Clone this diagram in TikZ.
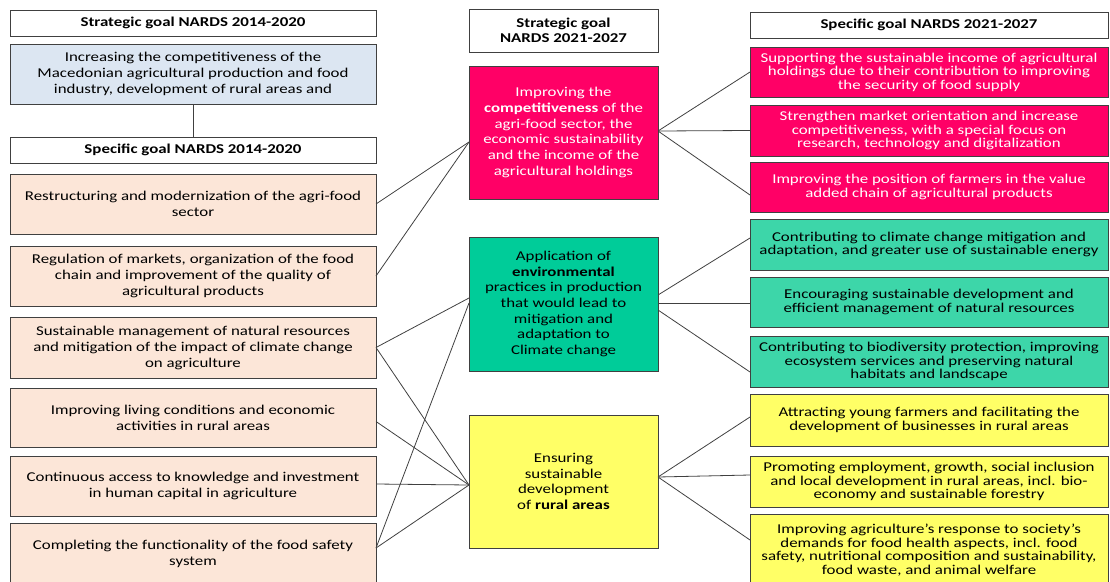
\documentclass[tikz,border=0pt]{standalone}
\usepackage{fontspec}
\setmainfont{Carlito}[FakeStretch=1.25]
\definecolor{peach}{HTML}{FCE6D8}
\definecolor{lblue}{HTML}{DCE6F2}
\definecolor{mpink}{HTML}{FF0066}
\definecolor{mgreen}{HTML}{00CC99}
\definecolor{rgreen}{HTML}{3DD6A9}
\definecolor{myellow}{HTML}{FFFF66}
\definecolor{bord}{HTML}{404040}
\tikzset{
  gbox/.style={draw=bord, line width=1pt, inner sep=0pt, outer sep=0pt, anchor=north west, align=center},
  lfont/.style={font=\fontsize{13.5}{16}\selectfont},
  mfont/.style={font=\fontsize{13.5}{15.7}\selectfont},
  rfont/.style={font=\fontsize{13.5}{13.6}\selectfont},
  hfont/.style={font=\fontsize{13.5}{15}\selectfont\bfseries},
  conn/.style={draw=bord, line width=0.8pt},
}
\newcommand{\bx}[7]{\node[gbox,#6, minimum width=#4pt, minimum height=#5pt] (#1) at (#2,#3) {#7};}
\begin{document}
\begin{tikzpicture}[x=1pt,y=-1pt]
\useasboundingbox (0,0) rectangle (1110,581);
% left column
\bx{lh1}{10}{10}{366}{26}{hfont}{Strategic goal NARDS 2014-2020}
\bx{lblue}{10}{44}{366}{60}{lfont,fill=lblue}{Increasing the competitiveness of the\\Macedonian agricultural production and food\\industry, development of rural areas and}
\bx{lh2}{10}{137}{366}{26}{hfont}{Specific goal NARDS 2014-2020}
\bx{b1}{10}{174}{366}{60}{lfont,fill=peach}{Restructuring and modernization of the agri-food\\sector}
\bx{b2}{10}{246}{366}{60}{lfont,fill=peach}{Regulation of markets, organization of the food\\chain and improvement of the quality of\\agricultural products}
\bx{b3}{10}{317}{366}{61}{lfont,fill=peach}{Sustainable management of natural resources\\and mitigation of the impact of climate change\\on agriculture}
\bx{b4}{10}{388}{366}{59}{lfont,fill=peach}{Improving living conditions and economic\\activities in rural areas}
\bx{b5}{10}{456}{366}{60}{lfont,fill=peach}{Continuous access to knowledge and investment\\in human capital in agriculture}
\bx{b6}{10}{523}{366}{62}{lfont,fill=peach}{Completing the functionality of the food safety\\system}
\draw[conn] (lblue.south) -- (lh2.north);
% middle column
\bx{mh}{469}{9}{189}{43}{hfont}{Strategic goal\\NARDS 2021-2027}
\bx{pk}{469}{66}{189}{133}{mfont,fill=mpink,text=white}{Improving the\\\textbf{competitiveness} of the\\agri-food sector, the\\economic sustainability\\and the income of the\\agricultural holdings}
\bx{gr}{469}{237}{189}{134}{mfont,fill=mgreen}{Application of\\\textbf{environmental}\\practices in production\\that would lead to\\mitigation and\\adaptation to\\Climate change}
\bx{ye}{469}{415}{189}{133}{mfont,fill=myellow}{Ensuring\\sustainable\\development\\of \textbf{rural areas}}
% right column
\bx{rh}{750}{12}{358}{26}{hfont}{Specific goal NARDS 2021-2027}
\bx{r1}{750}{47}{358}{50}{rfont,fill=mpink,text=white}{Supporting the sustainable income of agricultural\\holdings due to their contribution to improving\\the security of food supply}
\bx{r2}{750}{105}{358}{51}{rfont,fill=mpink,text=white}{Strengthen market orientation and increase\\competitiveness, with a special focus on\\research, technology and digitalization}
\bx{r3}{750}{162}{358}{50}{rfont,fill=mpink,text=white}{Improving the position of farmers in the value\\added chain of agricultural products}
\bx{g1}{750}{219}{358}{51}{rfont,fill=rgreen}{Contributing to climate  change mitigation and\\adaptation, and greater use of sustainable energy}
\bx{g2}{750}{277}{358}{50}{rfont,fill=rgreen}{Encouraging sustainable development and\\efficient management of natural resources}
\bx{g3}{750}{336}{358}{51}{rfont,fill=rgreen}{Contributing to biodiversity protection, improving\\ecosystem services and preserving natural\\habitats and landscape}
\bx{y1}{750}{394}{358}{52}{rfont,fill=myellow}{Attracting young farmers and facilitating the\\development of businesses in rural areas}
\bx{y2}{750}{456}{358}{51}{rfont,fill=myellow}{Promoting employment, growth, social inclusion\\and local development in rural areas, incl. bio-\\economy and sustainable forestry}
\bx{y3}{750}{514}{358}{72}{rfont,fill=myellow}{Improving agriculture's response to society's\\demands for food health aspects, incl.  food\\safety, nutritional composition and sustainability,\\food waste, and animal welfare}
% connectors left -> middle
\coordinate (pkL) at ([yshift=-9.5pt]pk.west);
\coordinate (grL1) at ([yshift=6pt]gr.west);
\coordinate (grL2) at ([yshift=1pt]gr.west);
\coordinate (yeL) at ([yshift=-3.5pt]ye.west);
\coordinate (b6R) at (b6.east |- 0,548);
\draw[conn] (b1.east) -- (pkL);
\draw[conn] (b2.east) -- (pkL);
\draw[conn] (b3.east) -- (grL1);
\draw[conn] (b6R) -- (grL2);
\draw[conn] (b3.east) -- (yeL);
\draw[conn] ([yshift=-4pt]b4.east) -- (yeL);
\draw[conn] ([yshift=2pt]b5.east) -- (yeL);
\draw[conn] (b6R) -- (yeL);
% connectors middle -> right
\coordinate (pkR) at ([yshift=1.5pt]pk.east);
\draw[conn] (pkR) -- (r1.west);
\draw[conn] (pkR) -- (r2.west);
\draw[conn] (pkR) -- ([yshift=-8pt]r3.west);
\draw[conn] ([yshift=9pt]gr.east) -- ([yshift=6.5pt]g1.west);
\draw[conn] ([yshift=1pt]gr.east) -- ([yshift=-1pt]g2.west);
\draw[conn] ([yshift=-6pt]gr.east) -- ([yshift=-10.5pt]g3.west);
\coordinate (yeR) at ([yshift=4.5pt]ye.east);
\draw[conn] (yeR) -- ([yshift=3pt]y1.west);
\draw[conn] (yeR) -- ([yshift=6.5pt]y2.west);
\draw[conn] (yeR) -- ([yshift=10pt]y3.west);
\end{tikzpicture}
\end{document}
